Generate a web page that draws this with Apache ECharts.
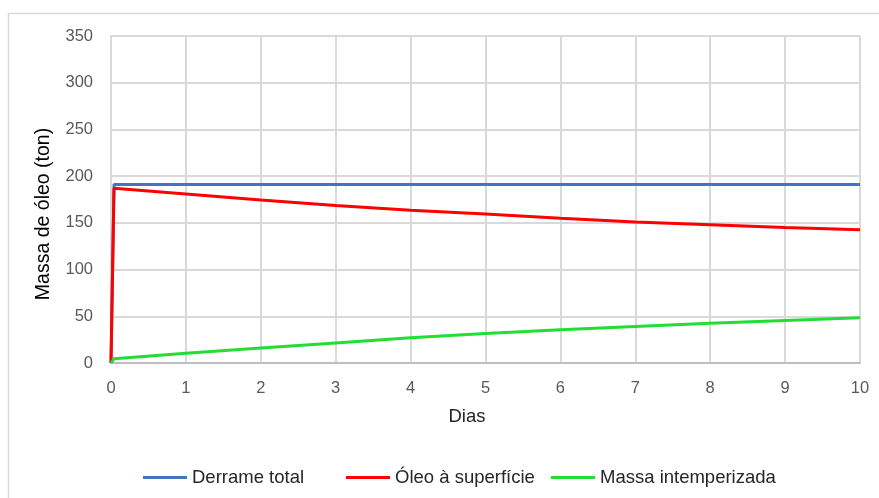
<!DOCTYPE html>
<html><head><meta charset="utf-8">
<script src="https://cdn.jsdelivr.net/npm/echarts@6/dist/echarts.min.js"></script>
<style>html,body{margin:0;padding:0;background:#fff}#c{width:879px;height:498px}</style>
</head><body><div id="c"></div>
<script>
const days = [0, 0.04, 1, 2, 3, 4, 5, 6, 7, 8, 9, 10];
const derrameTotal = [0, 191, 191, 191, 191, 191, 191, 191, 191, 191, 191, 191];
const oleoSuperficie = [0, 187, 181, 174.5, 168.5, 163.5, 159.5, 155, 151, 148, 145, 142.5];
const massaIntemperizada = [0, 4.5, 10.5, 16, 21.5, 27, 31.5, 35.5, 39, 42.5, 45.5, 48.5];
const seriesNames = ['Derrame total', 'Óleo à superfície', 'Massa intemperizada'];
const seriesColors = ['#4472c4', '#ff0000', '#22dd33'];
const seriesData = [derrameTotal, oleoSuperficie, massaIntemperizada];
const xTitle = 'Dias';
const yTitle = 'Massa de óleo (ton)';
const legendLefts = [138, 341, 546];

const chart = echarts.init(document.getElementById('c'), null, {renderer: 'canvas'});
const font = 'Liberation Sans, Arial, sans-serif';
chart.setOption({
  animation: false,
  textStyle: {fontFamily: font},
  graphic: [
    {type: 'rect', shape: {x: 8.5, y: 13.5, width: 1000, height: 1000}, style: {fill: null, stroke: '#d9d9d9', lineWidth: 1.5}, z: -1},
    {type: 'text', x: 44, y: 214, rotation: Math.PI / 2,
     style: {text: yTitle, fontSize: 19.5, fill: '#000', fontFamily: font, align: 'center', verticalAlign: 'middle'}},
    {type: 'text', x: 467, y: 417,
     style: {text: xTitle, fontSize: 18.5, fill: '#262626', fontFamily: font, align: 'center', verticalAlign: 'middle'}}
  ],
  grid: {left: 111, right: 19, top: 36, bottom: 135, containLabel: false},
  legend: seriesNames.map((n, i) => ({
    top: 463, left: legendLefts[i], itemWidth: 44, itemHeight: 3,
    icon: 'rect',
    textStyle: {fontSize: 18.5, color: '#262626', fontFamily: font},
    data: [n]
  })),
  xAxis: {
    type: 'value', min: 0, max: 10, interval: 1,
    axisLine: {show: true, lineStyle: {color: '#bfbfbf', width: 2}},
    axisTick: {show: false},
    axisLabel: {fontSize: 16.5, color: '#595959', margin: 17, fontFamily: font},
    splitLine: {show: true, lineStyle: {color: '#d9d9d9', width: 2}}
  },
  yAxis: {
    type: 'value', min: 0, max: 350, interval: 50,
    axisLine: {show: true, lineStyle: {color: '#d9d9d9', width: 2}},
    axisTick: {show: false},
    axisLabel: {fontSize: 16.5, color: '#595959', margin: 18, fontFamily: font},
    splitLine: {show: true, lineStyle: {color: '#d9d9d9', width: 2}}
  },
  series: seriesNames.map((n, i) => ({
    name: n, type: 'line', showSymbol: false, symbol: 'none',
    color: seriesColors[i],
    lineStyle: {width: 3, color: seriesColors[i]},
    data: days.map((d, j) => [d, seriesData[i][j]]),
    z: 2 + i
  }))
});
</script></body></html>
